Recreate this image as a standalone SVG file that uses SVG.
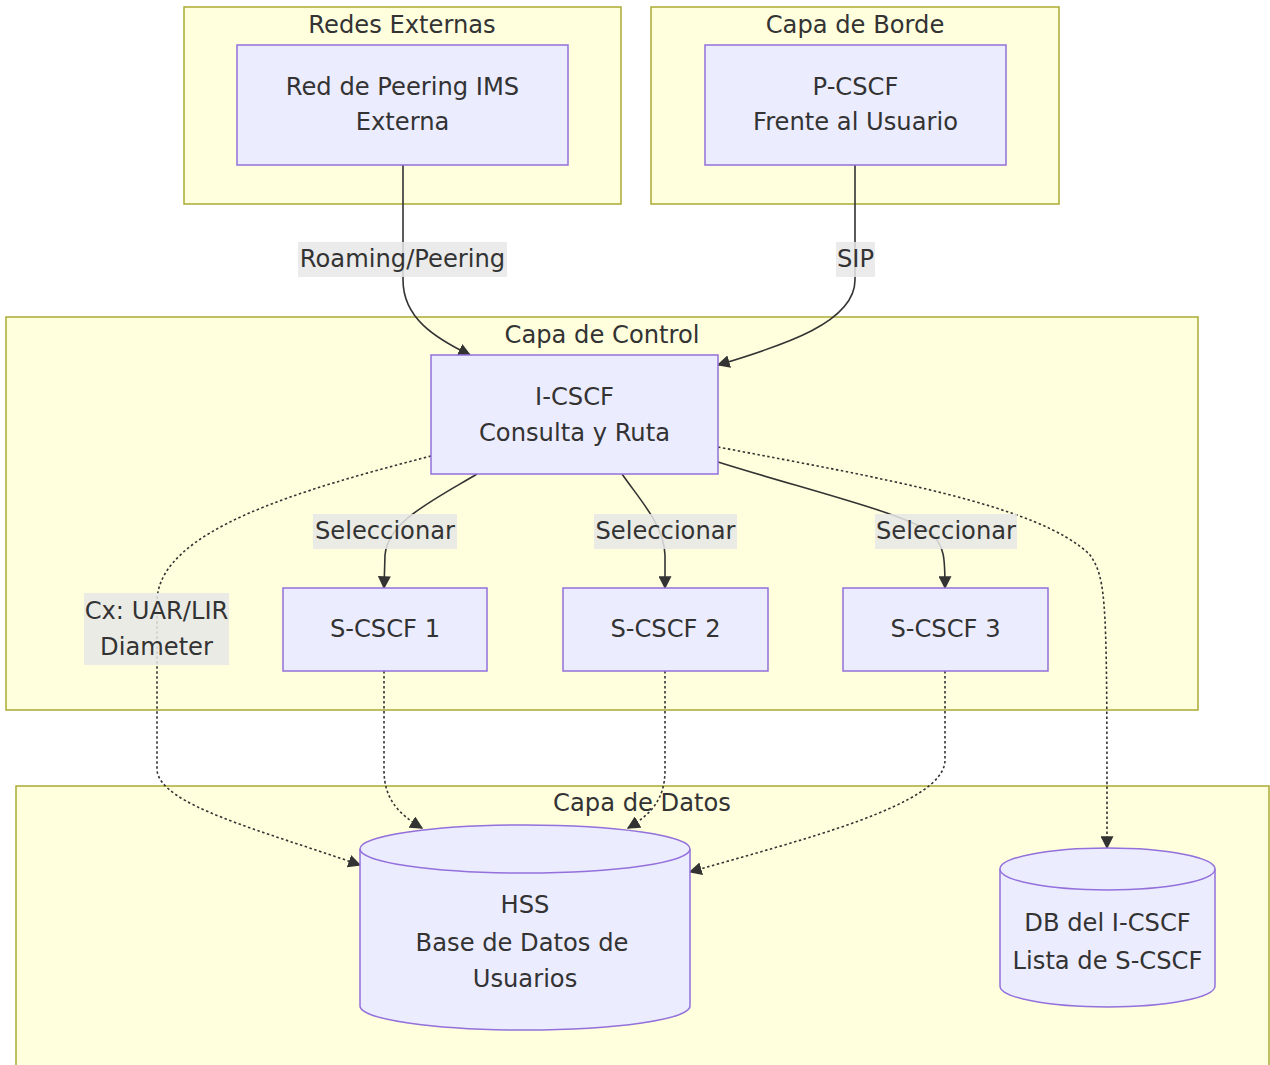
<svg xmlns="http://www.w3.org/2000/svg" width="1270" height="1065" viewBox="0 0 1270 1065">
<defs>
<style>
text{font-family:"DejaVu Sans",Verdana,sans-serif;font-size:24.2px;fill:#333;text-anchor:middle;dominant-baseline:central}
.cl{fill:#ffffde;stroke:#aaaa33;stroke-width:1.5}
.nd{fill:#ececff;stroke:#9370db;stroke-width:1.5}
.e{fill:none;stroke:#333;stroke-width:1.6}
.d{fill:none;stroke:#333;stroke-width:1.6;stroke-dasharray:2.5,2.5}
.lb{fill:#e8e8e8;opacity:0.85}
</style>
<marker id="ah" viewBox="0 0 10 10" refX="9" refY="5" markerWidth="13" markerHeight="13" markerUnits="userSpaceOnUse" orient="auto">
<path d="M0,0 L10,5 L0,10 z" fill="#333"/>
</marker>
</defs>
<g id="clusters">
<g id="redes-externas"><rect class="cl" x="184" y="7" width="437" height="197"/><text x="402" y="25">Redes Externas</text></g>
<g id="capa-borde"><rect class="cl" x="651" y="7" width="408" height="197"/><text x="855" y="25">Capa de Borde</text></g>
<g id="capa-control"><rect class="cl" x="6" y="317" width="1192" height="393"/><text x="602" y="335">Capa de Control</text></g>
<g id="capa-datos"><rect class="cl" x="16" y="786" width="1253" height="290"/><text x="642" y="803">Capa de Datos</text></g>
</g>
<g id="connectors">
<path class="e" d="M403,165 L403,280 C403,318 435,338 470,355" marker-end="url(#ah)"/>
<path class="e" d="M855,165 L855,280 C855,322 785,345 718,365" marker-end="url(#ah)"/>
<path class="e" d="M477,474 C430,502 388,522 385,555 L384,588" marker-end="url(#ah)"/>
<path class="e" d="M622,474 C640,500 664,525 665,555 L665,588" marker-end="url(#ah)"/>
<path class="e" d="M718,462 C800,488 900,512 930,532 C945,545 945,560 945,588" marker-end="url(#ah)"/>
<path class="d" d="M431,456 C300,490 160,530 157,600 L157,770 C160,805 260,830 360,865" marker-end="url(#ah)"/>
<path class="d" d="M718,447 C880,478 1040,505 1090,555 C1107,580 1107,600 1107,848" marker-end="url(#ah)"/>
<path class="d" d="M384,671 L384,770 C384,800 400,815 422,828" marker-end="url(#ah)"/>
<path class="d" d="M665,671 L665,770 C665,800 650,815 628,828" marker-end="url(#ah)"/>
<path class="d" d="M945,671 L945,760 C945,805 800,840 690,872" marker-end="url(#ah)"/>
<g id="edge-labels">
<rect class="lb" x="298" y="242" width="209" height="35"/><text x="402.5" y="259">Roaming/Peering</text>
<rect class="lb" x="836" y="242" width="39" height="35"/><text x="855.5" y="259">SIP</text>
<rect class="lb" x="313" y="514" width="144" height="35"/><text x="385" y="531">Seleccionar</text>
<rect class="lb" x="594" y="514" width="143" height="35"/><text x="665.5" y="531">Seleccionar</text>
<rect class="lb" x="875" y="514" width="142" height="35"/><text x="946" y="531">Seleccionar</text>
<rect class="lb" x="84" y="593" width="145" height="72"/><text x="156.5" y="611">Cx: UAR/LIR</text><text x="156.5" y="647">Diameter</text>
</g>
</g>
<g id="peering"><rect class="nd" x="237" y="45" width="331" height="120"/><text x="402.5" y="87">Red de Peering IMS</text><text x="402.5" y="122">Externa</text></g>
<g id="pcscf"><rect class="nd" x="705" y="45" width="301" height="120"/><text x="855.5" y="87">P-CSCF</text><text x="855.5" y="122">Frente al Usuario</text></g>
<g id="icscf"><rect class="nd" x="431" y="355" width="287" height="119"/><text x="574.5" y="397">I-CSCF</text><text x="574.5" y="433">Consulta y Ruta</text></g>
<g id="scscf1"><rect class="nd" x="283" y="588" width="204" height="83"/><text x="385" y="629">S-CSCF 1</text></g>
<g id="scscf2"><rect class="nd" x="563" y="588" width="205" height="83"/><text x="665.5" y="629">S-CSCF 2</text></g>
<g id="scscf3"><rect class="nd" x="843" y="588" width="205" height="83"/><text x="945.5" y="629">S-CSCF 3</text></g>
<g id="hss">
<path class="nd" d="M360,849 A165,24 0 0 1 690,849 L690,1006 A165,24 0 0 1 360,1006 Z"/>
<path class="nd" d="M360,849 A165,24 0 0 0 690,849" fill="none"/>
<text x="525" y="905">HSS</text><text x="522" y="943">Base de Datos de</text><text x="525" y="979">Usuarios</text>
</g>
<g id="icscf-db">
<path class="nd" d="M1000,869 A107.5,21 0 0 1 1215,869 L1215,986 A107.5,21 0 0 1 1000,986 Z"/>
<path class="nd" d="M1000,869 A107.5,21 0 0 0 1215,869" fill="none"/>
<text x="1107.5" y="923">DB del I-CSCF</text><text x="1107.5" y="961">Lista de S-CSCF</text>
</g>
</svg>
